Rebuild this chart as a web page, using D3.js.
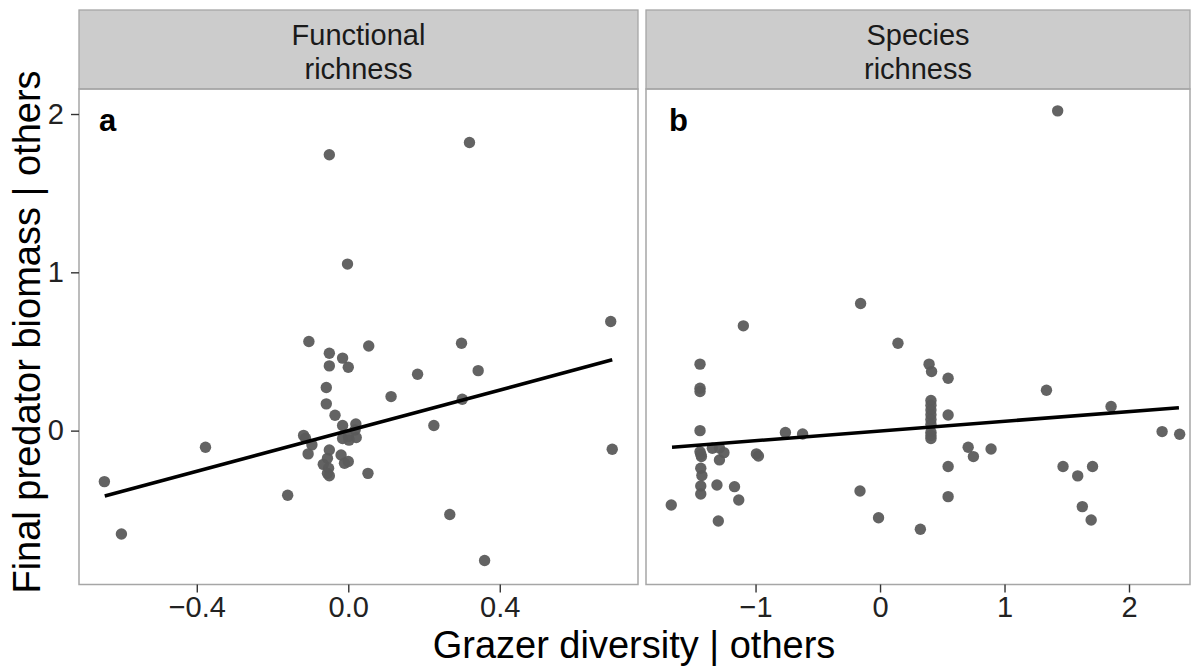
<!DOCTYPE html>
<html>
<head>
<meta charset="utf-8">
<script src="https://cdn.jsdelivr.net/npm/d3@7"></script>
<style>
html,body{margin:0;padding:0;background:#fff;}
svg{display:block;font-family:"Liberation Sans",Arial,Helvetica,sans-serif;}
</style>
</head>
<body>
<svg id="chart" width="1191" height="668"></svg>
<script>
// ---- Data ----
const facetTitles = [["Functional","richness"],["Species","richness"]];
const panelLabels = ["a","b"];
const xTicksA = [-0.4, 0.0, 0.4];
const xTicksB = [-1, 0, 1, 2];
const yTicks = [0, 1, 2];

// Panel a: functional richness (x = grazer diversity | others, y = predator biomass | others)
const aX = [-0.050,0.320,-0.002,0.693,-0.104,-0.050,-0.015,0.054,0.299,-0.050,0.000,0.343,0.183,-0.058,0.113,0.301,-0.058,-0.035,-0.015,0.020,0.018,0.021,0.000,-0.015,0.002,0.226,-0.113,-0.118,-0.096,-0.106,-0.377,-0.644,-0.599,-0.050,-0.019,-0.055,-0.066,-0.052,-0.055,-0.050,-0.010,0.000,0.052,-0.160,0.268,0.360,0.697];
const aY = [1.743,1.820,1.052,0.689,0.563,0.489,0.458,0.535,0.552,0.409,0.400,0.379,0.356,0.272,0.215,0.198,0.169,0.097,0.032,0.042,0.004,-0.044,-0.038,-0.050,-0.060,0.032,-0.048,-0.030,-0.090,-0.147,-0.105,-0.322,-0.653,-0.122,-0.154,-0.175,-0.213,-0.238,-0.270,-0.285,-0.206,-0.195,-0.270,-0.408,-0.530,-0.820,-0.118];
// Panel b: species richness
const bX = [1.427,-0.156,-1.098,0.144,-1.446,-1.446,-1.446,-1.446,-1.677,-1.446,-1.435,-1.440,-1.347,-1.290,-1.254,-1.290,-1.440,-1.431,-1.440,-1.440,-1.310,-1.169,-1.135,-1.299,-0.993,-0.977,-0.760,-0.622,-0.161,-0.012,0.324,0.394,0.414,0.547,0.409,0.409,0.409,0.409,0.409,0.409,0.409,0.409,0.409,0.547,0.547,0.547,0.708,0.750,0.892,1.337,1.856,1.470,1.588,1.707,1.625,1.696,2.266,2.407];
const bY = [2.020,0.803,0.662,0.552,0.420,0.268,0.247,0.000,-0.470,-0.133,-0.164,-0.150,-0.111,-0.110,-0.139,-0.185,-0.238,-0.284,-0.350,-0.400,-0.343,-0.354,-0.438,-0.571,-0.147,-0.160,-0.012,-0.021,-0.381,-0.550,-0.623,0.420,0.373,0.331,0.190,0.160,0.130,0.100,0.070,0.040,-0.010,-0.030,-0.050,0.099,-0.227,-0.417,-0.105,-0.164,-0.116,0.255,0.152,-0.227,-0.286,-0.227,-0.480,-0.565,-0.006,-0.023];
// Fitted regression lines (endpoints in data units)
const fitAX = [-0.643, 0.697];
const fitAY = [-0.413, 0.447];
const fitBX = [-1.671, 2.401];
const fitBY = [-0.105, 0.145];

// ---- Layout ----
const svg = d3.select("#chart");
const panelTop = 89, panelBottom = 584.5, stripTop = 10;
const panels = [
  {left:79, right:638, xdom:[-0.711,0.765], ticks:xTicksA, fmt:d3.format(".1f"), xs:aX, ys:aY, fx:fitAX, fy:fitAY},
  {left:646, right:1190, xdom:[-1.88,2.49], ticks:xTicksB, fmt:d3.format("d"), xs:bX, ys:bY, fx:fitBX, fy:fitBY}
];
const y = d3.scaleLinear().domain([-0.972, 2.158]).range([panelBottom, panelTop]);

panels.forEach((p, i) => {
  const x = d3.scaleLinear().domain(p.xdom).range([p.left, p.right]);
  const g = svg.append("g");
  g.append("rect").attr("x", p.left).attr("y", panelTop).attr("width", p.right - p.left).attr("height", panelBottom - panelTop)
    .attr("fill", "#fff");
  g.append("rect").attr("x", p.left).attr("y", stripTop).attr("width", p.right - p.left).attr("height", panelTop - stripTop)
    .attr("fill", "#cccccc").attr("stroke", "#a6a6a6").attr("stroke-width", 1.3);
  const st = g.append("text").attr("text-anchor", "middle").attr("font-size", 29).attr("fill", "#1a1a1a");
  facetTitles[i].forEach((t, k) => {
    st.append("tspan").attr("x", (p.left + p.right) / 2).attr("y", 45 + k * 34).text(t);
  });
  const pts = p.xs.map((v, k) => [v, p.ys[k]]);
  g.selectAll("circle").data(pts).join("circle")
    .attr("cx", d => x(d[0])).attr("cy", d => y(d[1])).attr("r", 5.7)
    .attr("fill", "#5b5b5b").attr("fill-opacity", 0.95);
  const line = d3.line().x(d => x(d[0])).y(d => y(d[1]));
  g.append("path").datum(p.fx.map((v, k) => [v, p.fy[k]])).attr("d", line)
    .attr("stroke", "#000").attr("stroke-width", 3.6).attr("fill", "none");
  g.append("rect").attr("x", p.left).attr("y", panelTop).attr("width", p.right - p.left).attr("height", panelBottom - panelTop)
    .attr("fill", "none").attr("stroke", "#a6a6a6").attr("stroke-width", 1.5);
  g.append("text").attr("x", p.left + 20 + (i === 1 ? 3 : 0)).attr("y", 131).attr("font-size", 31)
    .attr("font-weight", "bold").attr("fill", "#000").text(panelLabels[i]);
  const ax = g.append("g").attr("transform", `translate(0,${panelBottom})`)
    .call(d3.axisBottom(x).tickValues(p.ticks).tickFormat(p.fmt).tickSize(8).tickPadding(4));
  ax.select(".domain").remove();
  ax.selectAll(".tick line").attr("stroke", "#333").attr("stroke-width", 1.4);
  ax.selectAll(".tick text").attr("font-size", 29).attr("fill", "#222").attr("font-family", "Liberation Sans, Arial, sans-serif");
});

const ay = svg.append("g").attr("transform", `translate(79,0)`)
  .call(d3.axisLeft(y).tickValues(yTicks).tickFormat(d3.format("d")).tickSize(8).tickPadding(7));
ay.select(".domain").remove();
ay.selectAll(".tick line").attr("stroke", "#333").attr("stroke-width", 1.4);
ay.selectAll(".tick text").attr("font-size", 29).attr("fill", "#222").attr("font-family", "Liberation Sans, Arial, sans-serif");

svg.append("text").attr("x", 634).attr("y", 658).attr("text-anchor", "middle").attr("font-size", 38)
  .attr("fill", "#000").text("Grazer diversity | others");
svg.append("text").attr("transform", "translate(40,332) rotate(-90)").attr("text-anchor", "middle")
  .attr("font-size", 38).attr("fill", "#000").text("Final predator biomass | others");
</script>
</body>
</html>
